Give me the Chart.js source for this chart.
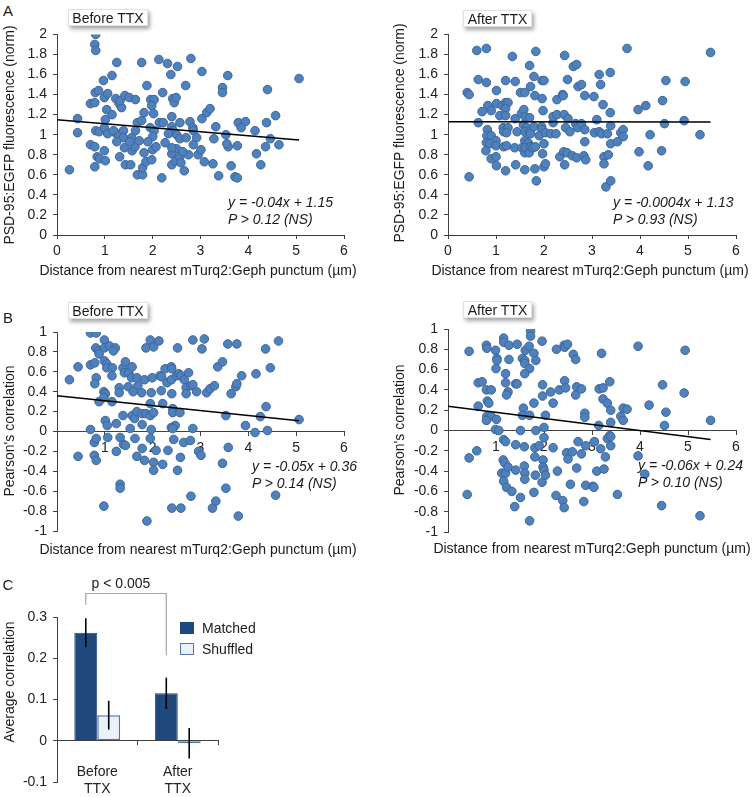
<!DOCTYPE html>
<html><head><meta charset="utf-8">
<script src="https://cdn.jsdelivr.net/npm/chart.js@4.4.1/dist/chart.umd.min.js"></script>
<style>
body{margin:0;width:756px;height:797px;position:relative;background:#fff;font-family:"Liberation Sans",Arial,sans-serif;color:#1a1a1a;overflow:hidden}
canvas{position:absolute}
.t{position:absolute;font-size:14px;white-space:nowrap;line-height:1;transform:translate(-50%,-50%)}
.v{position:absolute;font-size:14px;white-space:nowrap;line-height:1;transform:translate(-50%,-50%) rotate(-90deg)}
.eq{position:absolute;font-size:14px;font-style:italic;white-space:nowrap;line-height:17px}
.tag{position:absolute;background:#fff;border:1px solid #e2e2e2;box-shadow:2px 3px 4px rgba(0,0,0,.35);font-size:14px;text-align:center;line-height:16px;box-sizing:border-box}
.sw{position:absolute;width:14px;height:12px;box-sizing:border-box}
.lab{position:absolute;font-size:15px;line-height:1;transform:translate(-50%,-50%)}
</style></head>
<body>
<canvas id="a1" width="370" height="270" style="left:0;top:20px"></canvas>
<canvas id="a2" width="376" height="270" style="left:380px;top:20px"></canvas>
<canvas id="b1" width="370" height="240" style="left:0;top:310px"></canvas>
<canvas id="b2" width="376" height="240" style="left:380px;top:310px"></canvas>
<canvas id="c1" width="300" height="227" style="left:0;top:570px"></canvas>

<div class="lab" style="left:8px;top:10px">A</div>
<div class="lab" style="left:8px;top:317px">B</div>
<div class="lab" style="left:8px;top:584px">C</div>

<div class="tag" style="left:68px;top:9px;width:80px;height:17px">Before TTX</div>
<div class="tag" style="left:463px;top:10px;width:69px;height:17px">After TTX</div>
<div class="tag" style="left:68px;top:302px;width:80px;height:17px">Before TTX</div>
<div class="tag" style="left:463px;top:301px;width:69px;height:17px">After TTX</div>

<div class="v" style="left:9px;top:135px">PSD-95:EGFP fluorescence (norm)</div>
<div class="v" style="left:399px;top:133px">PSD-95:EGFP fluorescence (norm)</div>
<div class="v" style="left:9px;top:431px">Pearson's correlation</div>
<div class="v" style="left:399px;top:430px">Pearson's correlation</div>
<div class="v" style="left:9px;top:682px">Average correlation</div>

<div class="t" style="left:198px;top:270px">Distance from nearest mTurq2:Geph punctum (µm)</div>
<div class="t" style="left:590px;top:270px">Distance from nearest mTurq2:Geph punctum (µm)</div>
<div class="t" style="left:198px;top:549px">Distance from nearest mTurq2:Geph punctum (µm)</div>
<div class="t" style="left:592px;top:548px">Distance from nearest mTurq2:Geph punctum (µm)</div>

<div class="eq" style="left:228px;top:194px">y = -0.04x + 1.15<br>P &gt; 0.12 (NS)</div>
<div class="eq" style="left:613px;top:194px">y = -0.0004x + 1.13<br>P &gt; 0.93 (NS)</div>
<div class="eq" style="left:252px;top:458px">y = -0.05x + 0.36<br>P &gt; 0.14 (NS)</div>
<div class="eq" style="left:638px;top:457px">y = -0.06x + 0.24<br>P &gt; 0.10 (NS)</div>

<div class="t" style="left:121px;top:583px">p &lt; 0.005</div>
<div class="sw" style="left:180px;top:622px;background:#1F497D"></div>
<div class="t" style="left:202px;top:628px;transform:translate(0,-50%)">Matched</div>
<div class="sw" style="left:180px;top:643px;background:#EBF1FA;border:1.5px solid #56779F"></div>
<div class="t" style="left:202px;top:649px;transform:translate(0,-50%)">Shuffled</div>

<script>
// panel A: PSD-95 fluorescence vs distance, [distance, fluorescence]
const beforeFluor=[[0.43,1.16],[0.43,1.02],[0.81,2.0],[0.79,1.9],[0.81,1.84],[0.7,1.31],[0.79,1.32],[0.8,1.42],[0.87,1.44],[0.81,1.04],[0.88,1.03],[0.97,1.54],[0.99,1.37],[1.06,1.41],[1.04,1.25],[1.15,1.2],[1.01,1.15],[0.99,1.07],[1.06,1.01],[1.15,1.59],[1.25,1.72],[1.23,1.36],[1.3,1.31],[1.35,1.27],[1.32,1.34],[1.42,1.39],[1.51,1.37],[1.64,1.35],[1.22,1.02],[1.18,1.04],[1.29,0.99],[1.39,1.04],[1.39,0.97],[1.56,0.97],[1.64,1.04],[1.68,1.12],[1.77,1.14],[1.77,1.72],[1.82,1.22],[1.88,1.49],[1.96,1.35],[2.03,1.35],[1.98,1.29],[2.02,1.21],[1.95,1.07],[2.03,1.04],[2.0,0.98],[2.13,1.75],[2.21,1.42],[2.14,1.12],[2.22,1.12],[2.31,1.71],[2.38,1.6],[2.52,1.68],[2.42,1.36],[2.45,1.32],[2.49,1.37],[2.4,1.18],[2.4,1.08],[2.43,1.04],[2.33,1.01],[2.5,1.0],[2.57,0.96],[2.57,1.12],[2.69,1.49],[2.8,1.76],[2.78,1.13],[2.84,1.07],[2.85,1.04],[2.7,0.97],[2.92,0.97],[3.03,1.63],[3.03,1.16],[3.13,1.22],[3.2,1.26],[3.32,1.08],[3.28,0.96],[3.46,1.47],[3.46,1.42],[3.57,1.59],[3.53,1.0],[3.79,1.12],[3.94,1.13],[3.85,1.07],[4.14,1.04],[4.38,1.12],[4.4,1.45],[4.46,0.96],[4.57,1.19],[5.06,1.56],[2.26,0.92],[2.5,0.86],
[0.26,0.65],[0.7,0.9],[0.79,0.88],[0.84,0.78],[0.79,0.68],[0.89,0.76],[0.99,0.84],[1.01,0.74],[1.31,0.78],[1.43,0.7],[1.54,0.7],[1.41,0.87],[1.57,0.84],[1.63,0.88],[1.68,0.6],[1.79,0.6],[1.79,0.67],[1.82,0.82],[1.86,0.73],[1.98,0.75],[2.0,0.85],[2.19,0.57],[2.4,0.7],[2.4,0.81],[2.48,0.74],[2.57,0.78],[2.59,0.72],[2.66,0.64],[2.75,0.8],[2.63,0.83],[2.95,0.8],[3.01,0.85],[3.08,0.73],[3.26,0.71],[3.38,0.59],[3.64,0.69],[3.72,0.58],[3.77,0.57],[4.17,0.81],[4.26,0.7],[3.77,0.89],[3.58,0.88],[4.64,0.9],[4.36,0.88],[2.07,0.88],[2.4,0.87],[2.85,0.9],[1.25,0.93],[1.52,0.93],[1.72,0.94],[1.9,0.93],[3.55,0.91]];
const afterFluor=[[0.4,1.42],[0.44,1.4],[0.6,1.84],[0.8,1.86],[0.63,1.55],[0.8,1.52],[0.71,1.23],[0.63,1.12],[0.83,1.29],[0.9,1.24],[0.82,1.05],[0.81,0.99],[0.9,0.99],[1.01,1.44],[1.01,1.31],[1.13,1.29],[1.2,1.32],[1.25,1.32],[1.2,1.26],[1.08,1.19],[1.2,1.19],[1.2,1.54],[1.34,1.78],[1.15,1.07],[1.16,1.03],[1.25,1.07],[1.22,1.02],[1.0,0.94],[1.4,1.53],[1.4,1.16],[1.44,1.03],[1.51,1.42],[1.6,1.42],[1.53,1.21],[1.58,1.25],[1.61,1.18],[1.7,1.17],[1.7,1.69],[1.72,1.48],[1.79,1.58],[1.81,1.39],[1.83,1.83],[1.57,1.1],[1.64,1.07],[1.6,1.03],[1.7,1.03],[1.72,1.01],[1.79,1.08],[1.6,0.94],[1.67,0.92],[1.96,1.54],[2.0,1.54],[1.96,1.36],[1.98,1.24],[1.95,1.08],[1.96,1.05],[1.9,0.99],[2.03,1.02],[2.14,1.01],[2.25,1.01],[2.19,1.12],[2.19,1.18],[2.27,1.2],[2.27,1.35],[2.39,1.4],[2.4,1.39],[2.43,1.79],[2.49,1.55],[2.42,1.2],[2.5,1.16],[2.45,1.07],[2.54,1.03],[2.61,1.68],[2.68,1.7],[2.71,1.48],[2.78,1.5],[2.85,1.39],[2.66,1.11],[2.7,1.07],[2.78,1.11],[2.85,1.05],[3.04,1.38],[3.1,1.15],[3.15,1.6],[3.18,1.5],[3.23,1.3],[3.05,1.02],[3.15,1.03],[3.2,1.01],[3.32,1.01],[3.38,1.62],[3.38,1.22],[3.39,1.09],[3.6,1.02],[3.65,1.05],[3.65,0.98],[3.73,1.86],[3.96,1.25],[4.12,1.29],[4.21,1.0],[4.47,1.34],[4.51,1.11],[4.54,1.54],[4.92,1.14],[4.94,1.53],[5.25,1.0],[5.47,1.82],
[0.44,0.58],[0.8,0.92],[0.79,0.84],[0.87,0.91],[0.9,0.76],[1.0,0.78],[1.01,0.69],[1.0,0.89],[1.16,0.88],[1.22,0.89],[1.2,0.64],[1.39,0.87],[1.41,0.7],[1.54,0.87],[1.6,0.82],[1.61,0.87],[1.6,0.65],[1.69,0.82],[1.72,0.88],[1.77,0.87],[1.82,0.88],[1.81,0.66],[1.84,0.54],[1.97,0.81],[2.0,0.91],[2.0,0.68],[2.03,0.71],[2.33,0.78],[2.41,0.83],[2.43,0.7],[2.48,0.82],[2.59,0.79],[2.68,0.77],[2.85,0.93],[2.83,0.79],[2.87,0.75],[3.25,0.78],[3.34,0.8],[3.25,0.71],[3.29,0.48],[3.39,0.54],[3.39,0.91],[3.53,0.93],[4.17,0.69],[3.98,0.83],[4.45,0.84]];
// panel B: Pearson's correlation vs distance
const beforeCorr=[[0.26,0.52],[0.44,0.65],[0.7,0.99],[0.82,0.99],[0.81,0.84],[0.87,0.81],[0.88,0.78],[0.7,0.67],[0.79,0.69],[0.82,0.54],[0.79,0.48],[0.88,0.3],[0.99,0.92],[0.99,0.84],[1.1,0.86],[1.22,0.84],[1.18,0.81],[0.99,0.71],[1.04,0.68],[1.04,0.64],[1.16,0.64],[1.15,0.56],[0.98,0.4],[1.01,0.38],[0.98,0.34],[1.15,0.3],[1.01,0.11],[1.05,0.06],[1.24,0.08],[1.3,0.44],[1.3,0.39],[1.38,0.64],[1.43,0.7],[1.41,0.59],[1.5,0.59],[1.57,0.65],[1.56,0.54],[1.67,0.54],[1.49,0.45],[1.69,0.46],[1.59,0.4],[1.77,0.39],[1.38,0.16],[1.57,0.16],[1.62,0.13],[1.67,0.2],[1.78,0.18],[1.86,0.18],[1.53,0.03],[1.78,0.07],[1.83,0.52],[1.86,0.84],[1.95,0.92],[2.02,0.85],[2.13,0.91],[1.97,0.39],[1.99,0.54],[1.95,0.28],[1.95,0.16],[2.02,0.19],[1.97,0.02],[2.15,0.56],[2.19,0.55],[2.18,0.41],[2.21,0.28],[2.26,0.63],[2.3,0.49],[2.39,0.65],[2.4,0.63],[2.39,0.52],[2.4,0.38],[2.42,0.23],[2.42,0.19],[2.47,0.06],[2.39,0.04],[2.42,0.03],[2.52,0.84],[2.5,0.56],[2.55,0.58],[2.59,0.56],[2.66,0.52],[2.57,0.19],[2.75,0.59],[2.7,0.44],[2.7,0.38],[2.8,0.46],[2.84,0.47],[2.92,0.4],[2.84,0.92],[3.03,0.83],[3.08,0.93],[2.84,0.03],[3.13,0.39],[3.2,0.43],[3.29,0.46],[3.36,0.65],[3.46,0.7],[3.64,0.38],[3.53,0.16],[3.57,0.88],[3.76,0.88],[3.74,0.45],[3.76,0.48],[3.86,0.56],[3.94,0.06],[4.16,0.58],[4.25,0.15],[4.37,0.25],[4.36,0.83],[4.46,0.64],[4.63,0.91],[5.06,0.12],[4.14,-0.01],[4.4,0.01],[0.7,0.02],
[0.44,-0.25],[0.78,-0.11],[0.82,-0.07],[0.78,-0.24],[0.82,-0.29],[0.98,-0.75],[1.06,-0.06],[1.24,-0.2],[1.32,-0.06],[1.32,-0.53],[1.32,-0.57],[1.39,-0.13],[1.43,-0.14],[1.63,-0.07],[1.67,-0.25],[1.78,-0.17],[1.83,-0.29],[1.88,-0.9],[1.95,-0.07],[2.02,-0.31],[2.02,-0.39],[2.07,-0.19],[2.21,-0.33],[2.32,-0.19],[2.4,-0.77],[2.44,-0.08],[2.52,-0.39],[2.58,-0.26],[2.59,-0.77],[2.65,-0.11],[2.8,-0.65],[2.79,-0.09],[2.96,-0.2],[3.01,-0.24],[3.25,-0.77],[3.32,-0.7],[3.46,-0.32],[3.53,-0.57],[3.58,-0.16],[3.79,-0.85],[4.57,-0.64]];
const afterCorr=[[0.44,0.78],[0.63,0.47],[0.71,0.48],[0.63,0.24],[0.8,0.84],[0.81,0.81],[0.8,0.4],[0.9,0.4],[0.82,0.29],[0.85,0.27],[0.81,0.14],[0.9,0.14],[0.8,0.1],[1.01,0.11],[0.99,0.79],[1.02,0.71],[1.02,0.69],[1.0,0.61],[0.99,0.01],[1.06,0.0],[1.16,0.91],[1.16,0.87],[1.27,0.84],[1.27,0.7],[1.2,0.56],[1.2,0.47],[1.25,0.38],[1.22,0.35],[1.41,0.46],[1.44,0.46],[1.44,0.85],[1.55,0.71],[1.6,0.69],[1.6,0.66],[1.61,0.79],[1.69,0.83],[1.72,0.98],[1.72,0.93],[1.79,0.76],[1.83,0.69],[1.7,0.61],[1.6,0.56],[1.79,0.27],[1.57,0.22],[1.55,0.15],[1.7,0.15],[1.51,0.0],[1.83,0.0],[1.96,0.88],[1.97,0.45],[1.97,0.34],[2.0,0.03],[2.03,0.15],[2.14,0.38],[2.19,0.27],[2.26,0.8],[2.32,0.4],[2.42,0.84],[2.43,0.82],[2.49,0.85],[2.43,0.49],[2.45,0.42],[2.61,0.75],[2.66,0.7],[2.66,0.35],[2.68,0.43],[2.78,0.41],[2.85,0.17],[2.85,0.13],[3.14,0.05],[3.15,0.41],[3.23,0.42],[3.2,0.76],[3.23,0.31],[3.32,0.27],[3.37,0.48],[3.39,0.2],[3.39,0.08],[3.37,-0.05],[3.6,0.14],[3.65,0.22],[3.73,0.21],[3.65,0.1],[3.96,0.83],[4.19,0.25],[4.47,0.45],[4.54,0.18],[4.51,0.05],[4.92,0.37],[4.94,0.79],[5.47,0.1],
[0.44,-0.27],[0.4,-0.63],[0.6,-0.2],[1.16,-0.09],[1.2,-0.11],[1.15,-0.29],[1.18,-0.32],[1.12,-0.42],[1.2,-0.42],[1.25,-0.36],[1.16,-0.5],[1.22,-0.56],[1.33,-0.6],[1.39,-0.75],[1.41,-0.14],[1.41,-0.39],[1.51,-0.66],[1.59,-0.16],[1.59,-0.35],[1.6,-0.42],[1.6,-0.48],[1.7,-0.89],[1.79,-0.61],[1.81,-0.17],[1.82,-0.44],[1.81,-0.26],[1.9,-0.15],[2.0,-0.07],[1.98,-0.29],[1.98,-0.36],[2.0,-0.39],[1.96,-0.51],[2.03,-0.44],[2.19,-0.17],[2.25,-0.64],[2.28,-0.4],[2.39,-0.69],[2.42,-0.76],[2.47,-0.22],[2.5,-0.28],[2.59,-0.21],[2.55,-0.53],[2.71,-0.11],[2.68,-0.37],[2.78,-0.23],[2.87,-0.15],[2.87,-0.54],[2.83,-0.7],[3.02,-0.55],[3.04,-0.56],[3.05,-0.11],[3.1,-0.4],[3.18,-0.18],[3.25,-0.38],[3.28,-0.26],[3.32,-0.08],[3.39,-0.06],[3.39,-0.15],[3.53,-0.63],[3.96,-0.25],[4.1,-0.43],[4.45,-0.74],[5.25,-0.84]];
// linear fits (slope, intercept, last x)
const fitBeforeFluor={slope:-0.04,icpt:1.15,end:5.06};
const fitAfterFluor={slope:-0.0004,icpt:1.13,end:5.47};
const fitBeforeCorr={slope:-0.05,icpt:0.36,end:5.06};
const fitAfterCorr={slope:-0.06,icpt:0.24,end:5.47};
// panel C
const groups=['Before TTX','After TTX'];
const matched=[0.262,0.115], matchedErr=[0.035,0.038];
const shuffled=[0.062,-0.006], shuffledErr=[0.035,0.037];
const bracket=[0.33,0.357,0.207]; // left foot, top, right foot

const axisCol='#404040', tickFont={size:14,family:'"Liberation Sans", Arial, sans-serif'};
const fmt=v=>String(+(+v).toFixed(2));

function scatter(id,pts,fit,o){
  const line=[0,fit.end].map(x=>({x,y:fit.slope*x+fit.icpt}));
  return new Chart(document.getElementById(id),{
    type:'scatter',
    data:{datasets:[
      {type:'line',data:line,borderColor:'#000',borderWidth:1.5,pointRadius:0,order:0},
      {data:pts.map(p=>({x:p[0],y:p[1]})),backgroundColor:'#4F81BD',borderColor:'#3B659A',borderWidth:1,pointRadius:4.3,order:1}]},
    options:{responsive:false,animation:false,layout:{padding:o.pad},
      plugins:{legend:{display:false},tooltip:{enabled:false}},
      scales:{
        x:{type:'linear',min:0,max:6,position:o.mid?{y:0}:'bottom',
          afterFit:s=>{if(!o.mid) s.height=o.xh;},
          ticks:{stepSize:1,font:tickFont,color:'#222',padding:4,maxRotation:0,callback:v=>o.mid&&v===0?'':fmt(v)},
          grid:{drawOnChartArea:false,tickLength:4,color:axisCol},border:{color:axisCol}},
        y:{min:o.ymin,max:o.ymax,afterFit:s=>{s.width=o.yw;},
          ticks:{stepSize:0.2,font:tickFont,color:'#222',padding:6,callback:fmt},
          grid:{drawOnChartArea:false,tickLength:4,color:axisCol},border:{color:axisCol}}}}
  });
}
scatter('a1',beforeFluor,fitBeforeFluor,{pad:{top:14,right:26,left:0,bottom:0},yw:57,xh:55,ymin:0,ymax:2});
scatter('a2',afterFluor,fitAfterFluor,{pad:{top:12,right:20,left:0,bottom:0},yw:68,xh:55,ymin:0,ymax:2});
scatter('b1',beforeCorr,fitBeforeCorr,{pad:{top:22,right:26,left:0,bottom:19},yw:57,mid:true,ymin:-1,ymax:1});
scatter('b2',afterCorr,fitAfterCorr,{pad:{top:19,right:20,left:0,bottom:18},yw:68,mid:true,ymin:-1,ymax:1});

const errBars={id:'errBars',afterDatasetsDraw(c){
  const ctx=c.ctx,y=c.scales.y;ctx.save();
  ctx.strokeStyle='#000';ctx.lineWidth=1.6;
  c.data.datasets.forEach((d,i)=>c.getDatasetMeta(i).data.forEach((b,j)=>{
    ctx.beginPath();ctx.moveTo(b.x,y.getPixelForValue(d.data[j]-d.err[j]));
    ctx.lineTo(b.x,y.getPixelForValue(d.data[j]+d.err[j]));ctx.stroke();}));
  const m=c.getDatasetMeta(0).data;
  ctx.strokeStyle='#A6A6A6';ctx.lineWidth=1.2;ctx.beginPath();
  ctx.moveTo(m[0].x,y.getPixelForValue(bracket[0]));ctx.lineTo(m[0].x,y.getPixelForValue(bracket[1]));
  ctx.lineTo(m[1].x,y.getPixelForValue(bracket[1]));ctx.lineTo(m[1].x,y.getPixelForValue(bracket[2]));
  ctx.stroke();ctx.restore();}};

new Chart(document.getElementById('c1'),{
  type:'bar',
  data:{labels:groups.map(g=>g.split(' ')),datasets:[
    {label:'Matched',data:matched,err:matchedErr,backgroundColor:'#1F497D',borderColor:'#1F497D',borderWidth:1},
    {label:'Shuffled',data:shuffled,err:shuffledErr,backgroundColor:'#EBF1FA',borderColor:'#56779F',borderWidth:1.5,borderSkipped:false}]},
  options:{responsive:false,animation:false,layout:{padding:{top:47,right:82,left:0,bottom:15}},
    datasets:{bar:{categoryPercentage:0.57,barPercentage:1}},
    plugins:{legend:{display:false},tooltip:{enabled:false}},
    scales:{
      x:{position:{y:0},ticks:{font:tickFont,color:'#222',padding:19,maxRotation:0},
        grid:{drawOnChartArea:false,tickLength:4,color:axisCol,offset:true},border:{color:axisCol}},
      y:{min:-0.1,max:0.3,afterFit:s=>{s.width=57;},
        ticks:{stepSize:0.1,font:tickFont,color:'#222',padding:6,callback:fmt},
        grid:{drawOnChartArea:false,tickLength:4,color:axisCol},border:{color:axisCol}}}},
  plugins:[errBars]
});
</script>
</body></html>
